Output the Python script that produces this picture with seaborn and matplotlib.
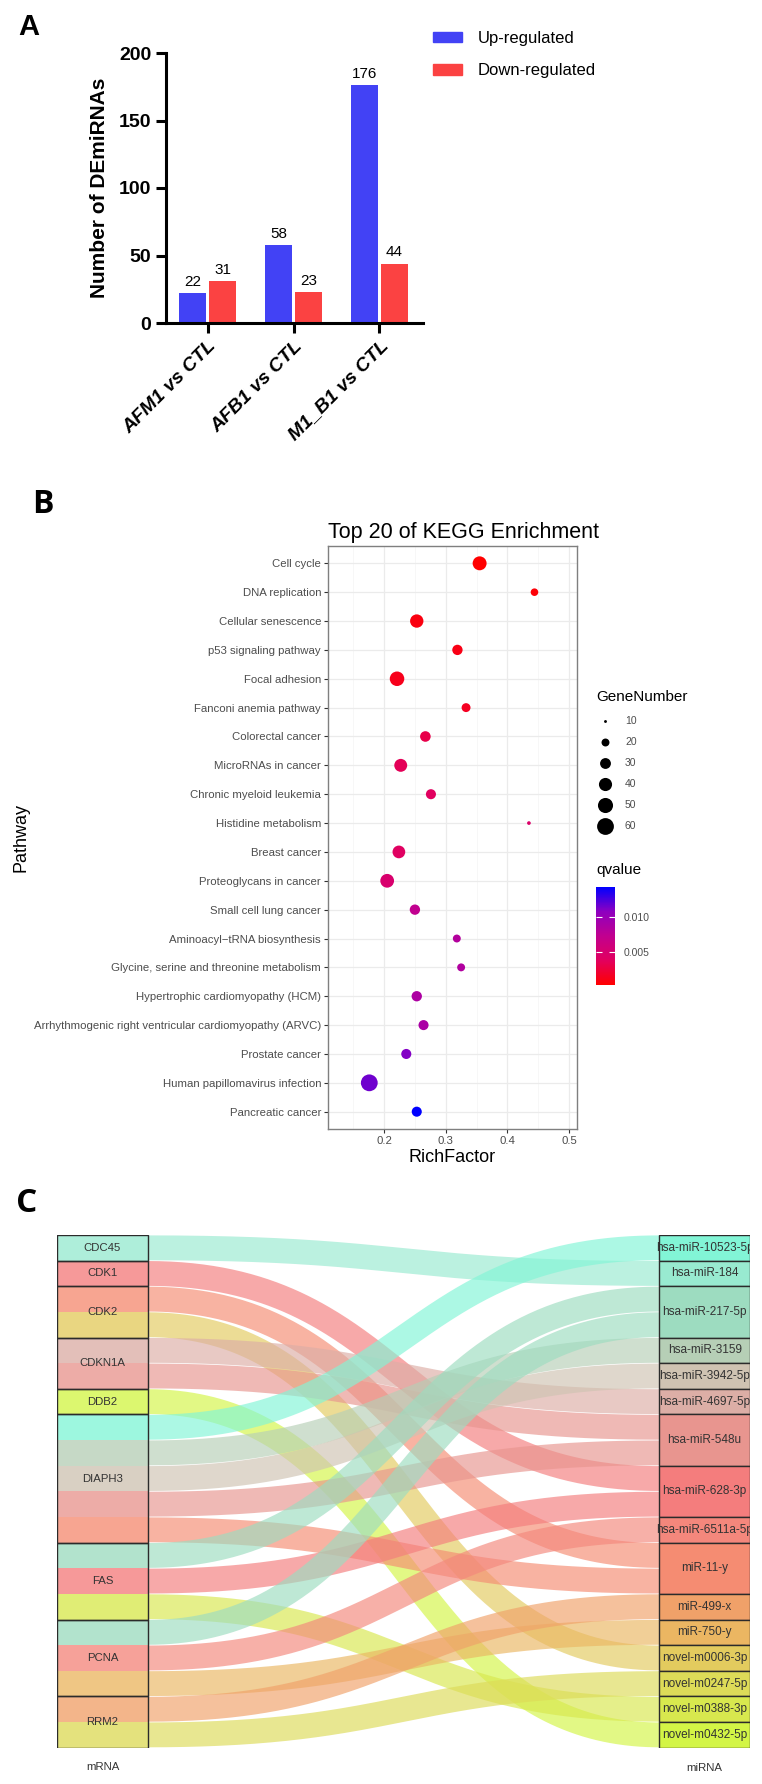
import numpy as np
import pandas as pd
import matplotlib
matplotlib.use('Agg')
from matplotlib import pyplot as plt
from matplotlib.colors import LinearSegmentedColormap, Normalize
from matplotlib.cm import ScalarMappable
from matplotlib.lines import Line2D
from matplotlib.patches import Patch, Rectangle
import seaborn as sns

# ---------- data: panel A ----------
groups = ['AFM1 vs CTL', 'AFB1 vs CTL', 'M1_B1 vs CTL']
up_counts = [22, 58, 176]
down_counts = [31, 23, 44]

# ---------- data: panel B ----------
pathways = ['Cell cycle', 'DNA replication', 'Cellular senescence', 'p53 signaling pathway',
            'Focal adhesion', 'Fanconi anemia pathway', 'Colorectal cancer', 'MicroRNAs in cancer',
            'Chronic myeloid leukemia', 'Histidine metabolism', 'Breast cancer',
            'Proteoglycans in cancer', 'Small cell lung cancer', 'Aminoacyl\u2212tRNA biosynthesis',
            'Glycine, serine and threonine metabolism', 'Hypertrophic cardiomyopathy (HCM)',
            'Arrhythmogenic right ventricular cardiomyopathy (ARVC)', 'Prostate cancer',
            'Human papillomavirus infection', 'Pancreatic cancer']
rich_factor = [0.355, 0.444, 0.253, 0.319, 0.221, 0.333, 0.267, 0.227, 0.276, 0.435,
               0.224, 0.205, 0.250, 0.318, 0.325, 0.253, 0.264, 0.236, 0.176, 0.253]
gene_number = [44, 19, 41, 28, 47, 23, 29, 39, 27, 11,
               38, 43, 28, 20, 20, 28, 27, 27, 60, 27]
qvalue = [0.0002, 0.0005, 0.0008, 0.0010, 0.0012, 0.0015, 0.0030, 0.0035, 0.0038, 0.0045,
          0.0040, 0.0048, 0.0072, 0.0082, 0.0084, 0.0086, 0.0088, 0.0110, 0.0115, 0.0143]
size_breaks = [10, 20, 30, 40, 50, 60]
q_breaks = [0.005, 0.010]

# ---------- data: panel C ----------
mrna_nodes = ['CDC45', 'CDK1', 'CDK2', 'CDKN1A', 'DDB2', 'DIAPH3', 'FAS', 'PCNA', 'RRM2']
mirna_nodes = ['hsa-miR-10523-5p', 'hsa-miR-184', 'hsa-miR-217-5p', 'hsa-miR-3159',
               'hsa-miR-3942-5p', 'hsa-miR-4697-5p', 'hsa-miR-548u', 'hsa-miR-628-3p',
               'hsa-miR-6511a-5p', 'miR-11-y', 'miR-499-x', 'miR-750-y',
               'novel-m0006-3p', 'novel-m0247-5p', 'novel-m0388-3p', 'novel-m0432-5p']
mirna_colors = ['#82f5d6', '#98ead0', '#9ddcc0', '#b6cfb6', '#cfc3b2', '#dcaea6',
                '#e8958f', '#f47d7d', '#f4877c', '#f58c72', '#f0a169', '#ebb662',
                '#e3cb5e', '#dddb58', '#d8e84e', '#d3f546']
link_source = ['CDC45', 'CDK1', 'CDK2', 'CDK2', 'CDKN1A', 'CDKN1A', 'DDB2',
               'DIAPH3', 'DIAPH3', 'DIAPH3', 'DIAPH3', 'DIAPH3',
               'FAS', 'FAS', 'FAS', 'PCNA', 'PCNA', 'PCNA', 'RRM2', 'RRM2']
link_target = ['hsa-miR-184', 'hsa-miR-628-3p', 'miR-11-y', 'novel-m0006-3p',
               'hsa-miR-4697-5p', 'hsa-miR-548u', 'novel-m0432-5p',
               'hsa-miR-10523-5p', 'hsa-miR-3159', 'hsa-miR-3942-5p', 'hsa-miR-548u', 'miR-11-y',
               'hsa-miR-217-5p', 'hsa-miR-628-3p', 'novel-m0388-3p',
               'hsa-miR-217-5p', 'hsa-miR-6511a-5p', 'miR-750-y',
               'miR-499-x', 'novel-m0247-5p']

BLUE = '#4242f5'
RED = '#fb4242'

plt.rcParams['font.family'] = ['Liberation Sans', 'DejaVu Sans']

W, H = 762, 1784
fig = plt.figure(figsize=(W / 100, H / 100), dpi=100)


def fx(px):
    return px / W


def fy(py):
    return 1 - py / H


def box(l, t, r, b):
    return [fx(l), fy(b), fx(r) - fx(l), fy(t) - fy(b)]


# ================= A: bar chart =================
ax_a = fig.add_axes(box(166, 53, 423, 323))
df_a = pd.DataFrame({'group': groups * 2,
                     'count': up_counts + down_counts,
                     'reg': ['Up-regulated'] * 3 + ['Down-regulated'] * 3})
sns.barplot(data=df_a, x='group', y='count', hue='reg', palette=[BLUE, RED],
            width=0.7, gap=0.1, saturation=1, legend=False, ax=ax_a)
for cont in ax_a.containers:
    ax_a.bar_label(cont, padding=3, fontsize=11)
ax_a.set_ylim(0, 200)
ax_a.set_xlim(-0.49, 2.51)
ax_a.set_yticks([0, 50, 100, 150, 200])
for s in ['top', 'right']:
    ax_a.spines[s].set_visible(False)
for s in ['left', 'bottom']:
    ax_a.spines[s].set_linewidth(2.2)
ax_a.tick_params(width=2.2, length=7)
for lab in ax_a.get_yticklabels():
    lab.set_fontsize(14)
    lab.set_fontweight('bold')
ax_a.set_xticks(range(len(groups)))
ax_a.set_xticklabels(groups, rotation=45, ha='right', rotation_mode='anchor',
                     fontsize=14, fontweight='bold', fontstyle='italic')
ax_a.set_xlabel('')
ax_a.set_ylabel('Number of DEmiRNAs', fontsize=15, fontweight='bold', labelpad=7)
ax_a.legend(handles=[Patch(color=BLUE, label='Up-regulated'),
                     Patch(color=RED, label='Down-regulated')],
            loc='upper left', bbox_to_anchor=(fx(433), fy(31)), bbox_transform=fig.transFigure,
            frameon=False, fontsize=12, handlelength=1.74, handleheight=0.6,
            handletextpad=0.96, labelspacing=1.05, borderpad=0, borderaxespad=0)
fig.text(fx(18), fy(35), 'A', fontsize=21, fontweight='bold')

# ================= B: KEGG dot plot =================
ax_b = fig.add_axes(box(328, 546, 577, 1129))
df_b = pd.DataFrame({'Pathway': pathways, 'RichFactor': rich_factor,
                     'GeneNumber': gene_number, 'qvalue': qvalue})
q_cmap = LinearSegmentedColormap.from_list(
    'q', ['#ff0000', '#e2005e', '#c1008f', '#8e00c0', '#0000ff'])
q_norm = Normalize(min(qvalue), max(qvalue))


def dot_area(v):
    return 2.84 * (v - 8.5)


sns.scatterplot(data=df_b, x='RichFactor', y='Pathway', hue='qvalue', palette=q_cmap,
                hue_norm=q_norm, size='GeneNumber', sizes=(dot_area(10), dot_area(60)),
                size_norm=(10, 60), linewidth=0, legend=False, ax=ax_b, zorder=3)
ax_b.set_xlim(0.109, 0.513)
ax_b.set_ylim(len(pathways) - 0.4, -0.6)
ax_b.set_xticks([0.2, 0.3, 0.4, 0.5])
ax_b.set_xticks([0.15, 0.25, 0.35, 0.45], minor=True)
ax_b.set_axisbelow(True)
ax_b.grid(which='major', color='#ebebeb', lw=0.9)
ax_b.grid(which='minor', axis='x', color='#f4f4f4', lw=0.5)
ax_b.tick_params(which='major', length=3, width=0.8, color='#333333',
                 labelsize=8.2, labelcolor='#4d4d4d', pad=2)
ax_b.tick_params(which='minor', length=0)
for s in ax_b.spines.values():
    s.set_color('#7f7f7f')
    s.set_linewidth(1)
ax_b.set_title('Top 20 of KEGG Enrichment', fontsize=15.5, loc='left', pad=6)
ax_b.set_xlabel('RichFactor', fontsize=13, labelpad=2)
ax_b.set_ylabel('Pathway', fontsize=13)
ax_b.yaxis.set_label_coords(fx(30), fy(837), transform=fig.transFigure)

size_handles = [Line2D([], [], marker='o', ls='', color='black', markeredgewidth=0,
                       markersize=np.sqrt(dot_area(v)), label=str(v)) for v in size_breaks]
leg = ax_b.legend(handles=size_handles, title='GeneNumber', loc='upper left',
                  bbox_to_anchor=(fx(596), fy(690)), bbox_transform=fig.transFigure,
                  frameon=False, fontsize=7.5, title_fontsize=11, alignment='left',
                  handlelength=1.73, handletextpad=1.05, labelspacing=1.05,
                  borderpad=0, borderaxespad=0)
leg._legend_box.sep = 9
for t in leg.get_texts():
    t.set_color('#4d4d4d')

cax = fig.add_axes(box(596, 887, 615, 985))
cb = fig.colorbar(ScalarMappable(norm=q_norm, cmap=q_cmap), cax=cax, ticks=q_breaks,
                  format='%.3f')
cb.outline.set_visible(False)
cax.tick_params(direction='in', length=4, color='white', width=0.8, left=True, right=True,
                labelsize=7.5, labelcolor='#4d4d4d', pad=6)
fig.text(fx(596), fy(870), 'qvalue', fontsize=11, va='center')
fig.text(fx(32), fy(513), 'B', fontsize=23, fontweight='bold', family=['Open Sans', 'DejaVu Sans'])

# ================= C: sankey =================
ax_c = fig.add_axes(box(57.3, 1235, 750, 1747.7))
n_units = len(link_source)
ax_c.set_xlim(0, 1)
ax_c.set_ylim(n_units, 0)
ax_c.axis('off')
wl = 90.4 / 692.7
wr = 90.7 / 692.7
x0, x1 = wl, 1 - wr
tcolor = dict(zip(mirna_nodes, mirna_colors))

src_size = {n: link_source.count(n) for n in mrna_nodes}
tgt_size = {n: link_target.count(n) for n in mirna_nodes}
src_start = dict(zip(mrna_nodes, np.cumsum([0] + [src_size[n] for n in mrna_nodes])[:-1]))
tgt_start = dict(zip(mirna_nodes, np.cumsum([0] + [tgt_size[n] for n in mirna_nodes])[:-1]))
src_used = {n: 0 for n in mrna_nodes}
tgt_used = {n: 0 for n in mirna_nodes}

ax_h_pt = (1747.7 - 1235) / 100 * 72
unit_pt = ax_h_pt / n_units
u = np.linspace(0, 1, 200)
xm = (x0 + x1) / 2
for s_name, t_name in zip(link_source, link_target):
    ys = src_start[s_name] + src_used[s_name]
    yt = tgt_start[t_name] + tgt_used[t_name]
    src_used[s_name] += 1
    tgt_used[t_name] += 1
    c = tcolor[t_name]
    bx = x0 * (1 - u) ** 3 + 3 * xm * (1 - u) ** 2 * u + 3 * xm * (1 - u) * u ** 2 + x1 * u ** 3
    by = (ys + 0.5) * ((1 - u) ** 3 + 3 * (1 - u) ** 2 * u) + (yt + 0.5) * (3 * (1 - u) * u ** 2 + u ** 3)
    ax_c.plot(bx, by, color=c, alpha=0.66, lw=unit_pt * 0.97, solid_capstyle='butt', zorder=1)
    ax_c.add_patch(Rectangle((0, ys), wl, 1, color=c, alpha=0.78, lw=0, zorder=2))

for n in mrna_nodes:
    ax_c.add_patch(Rectangle((0, src_start[n]), wl, src_size[n], fill=False,
                             ec='#2b2b2b', lw=1, zorder=3))
    ax_c.text(wl / 2, src_start[n] + src_size[n] / 2, n, ha='center', va='center',
              fontsize=8.2, color='#333333', zorder=4)
for n in mirna_nodes:
    ax_c.add_patch(Rectangle((x1, tgt_start[n]), wr, tgt_size[n], fc=tcolor[n],
                             ec='#2b2b2b', lw=1, zorder=3))
    ax_c.text(1 - wr / 2, tgt_start[n] + tgt_size[n] / 2, n, ha='center', va='center',
              fontsize=8.5, color='#333333', zorder=4, clip_on=True)
ax_c.text(wl / 2, n_units + 0.76, 'mRNA', ha='center', va='center', fontsize=8.2, color='#333333')
ax_c.text(1 - wr / 2, n_units + 0.79, 'miRNA', ha='center', va='center', fontsize=8.2, color='#333333')
fig.text(fx(16), fy(1212), 'C', fontsize=24, fontweight='bold', family=['Open Sans', 'DejaVu Sans'])

fig.savefig('out.png', dpi=100)
